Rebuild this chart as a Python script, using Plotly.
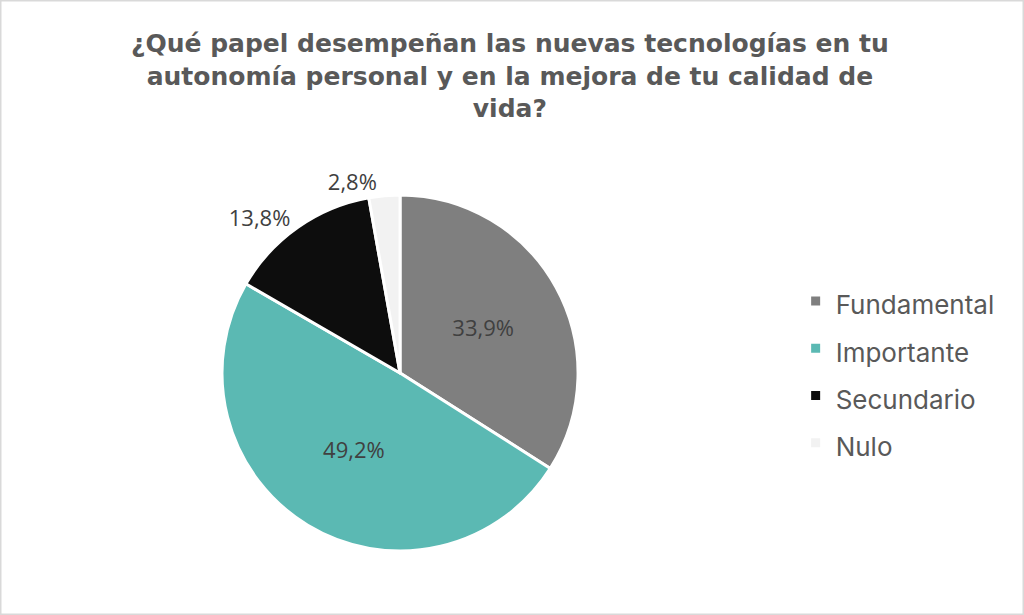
import plotly.graph_objects as go

categorias = ["Fundamental", "Importante", "Secundario", "Nulo"]
porcentajes = [33.9, 49.2, 13.8, 2.8]
etiquetas = ["33,9%", "49,2%", "13,8%", "2,8%"]
colores = ["#7F7F7F", "#5BB9B3", "#0D0D0D", "#F2F2F2"]
posiciones = ["inside", "inside", "outside", "outside"]

titulo = ("¿Qué papel desempeñan las nuevas tecnologías en tu<br>"
          "autonomía personal y en la mejora de tu calidad de<br>vida?")

# legend line height comes from the legend font size, the visible text is smaller
nombres_leyenda = ["<span style='font-size:26px'>%s</span>" % c for c in categorias]

fig = go.Figure()

fig.add_trace(
    go.Pie(
        labels=nombres_leyenda,
        values=porcentajes,
        text=etiquetas,
        customdata=categorias,
        textinfo="text",
        textposition=posiciones,
        sort=False,
        direction="clockwise",
        rotation=0,
        marker=dict(colors=colores, line=dict(color="white", width=3)),
        textfont=dict(family="Open Sans", size=22, color="#404040"),
        insidetextorientation="horizontal",
        domain=dict(x=[0.2168, 0.5645], y=[0.104, 0.683]),
        hovertemplate="%{customdata}: %{text}<extra></extra>",
    )
)

fig.update_layout(
    width=1024,
    height=615,
    margin=dict(l=0, r=0, t=0, b=0),
    paper_bgcolor="white",
    annotations=[
        dict(
            text="<b>" + titulo + "</b>",
            xref="paper", yref="paper",
            x=0.498, y=1 - 76 / 615,
            xanchor="center", yanchor="middle",
            showarrow=False,
            font=dict(family="DejaVu Sans", size=25, color="#595959"),
        )
    ],
    legend=dict(
        x=0.777,
        y=1 - 372 / 615,
        xanchor="left",
        yanchor="middle",
        font=dict(family="Inter", size=34, color="#595959"),
    ),
    shapes=[
        dict(
            type="rect", xref="paper", yref="paper",
            x0=0, y0=0, x1=1, y1=1,
            line=dict(color="#D9D9D9", width=3),
        )
    ],
)

fig.write_html(
    "out.html",
    config={"displayModeBar": False},
    post_script="document.body.style.margin='0';",
)
